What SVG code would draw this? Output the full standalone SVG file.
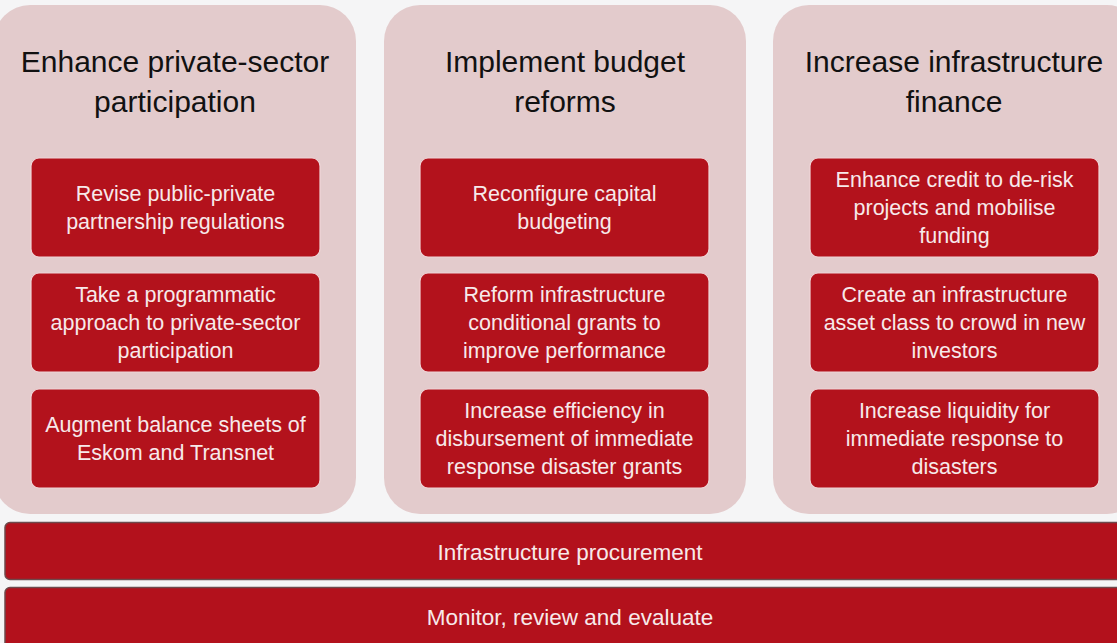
<svg xmlns="http://www.w3.org/2000/svg" width="1117" height="643" viewBox="0 0 1117 643">
  <style>
    .panel { fill: #e3cbcc; }
    .box { fill: #b3121c; stroke: #f0d6d8; stroke-width: 1.2; }
    .bar { fill: #b3111c; stroke: #6e4a4c; stroke-width: 1.5; }
    .title { font-family: "Liberation Sans", Arial, sans-serif; font-size: 30px; fill: #111111; text-anchor: middle; }
    .label { font-family: "Liberation Sans", Arial, sans-serif; font-size: 21.5px; fill: #f7e9ea; text-anchor: middle; }
    .barlabel { font-family: "Liberation Sans", Arial, sans-serif; font-size: 22.5px; fill: #f7e9ea; text-anchor: middle; }
  </style>
  <rect x="0" y="0" width="1117" height="643" fill="#f5f5f6"/>

  <!-- Column 1: private-sector participation -->
  <g id="col-private">
    <rect class="panel" x="-6" y="5" width="362" height="509" rx="36"/>
    <text class="title" x="175" y="72">Enhance private-sector</text>
    <text class="title" x="175" y="112">participation</text>
  </g>
  <g id="ppp-regulations">
    <rect class="box" x="31" y="158" width="289" height="99" rx="8"/>
    <text class="label" x="175.5" y="201">Revise public-private</text>
    <text class="label" x="175.5" y="229">partnership regulations</text>
  </g>
  <g id="programmatic-approach">
    <rect class="box" x="31" y="273" width="289" height="99" rx="8"/>
    <text class="label" x="175.5" y="302">Take a programmatic</text>
    <text class="label" x="175.5" y="330">approach to private-sector</text>
    <text class="label" x="175.5" y="358">participation</text>
  </g>
  <g id="balance-sheets">
    <rect class="box" x="31" y="389" width="289" height="99" rx="8"/>
    <text class="label" x="175.5" y="432">Augment balance sheets of</text>
    <text class="label" x="175.5" y="460">Eskom and Transnet</text>
  </g>

  <!-- Column 2: budget reforms -->
  <g id="col-budget">
    <rect class="panel" x="384" y="5" width="362" height="509" rx="36"/>
    <text class="title" x="565" y="72">Implement budget</text>
    <text class="title" x="565" y="112">reforms</text>
  </g>
  <g id="capital-budgeting">
    <rect class="box" x="420" y="158" width="289" height="99" rx="8"/>
    <text class="label" x="564.5" y="201">Reconfigure capital</text>
    <text class="label" x="564.5" y="229">budgeting</text>
  </g>
  <g id="conditional-grants">
    <rect class="box" x="420" y="273" width="289" height="99" rx="8"/>
    <text class="label" x="564.5" y="302">Reform infrastructure</text>
    <text class="label" x="564.5" y="330">conditional grants to</text>
    <text class="label" x="564.5" y="358">improve performance</text>
  </g>
  <g id="disaster-grants">
    <rect class="box" x="420" y="389" width="289" height="99" rx="8"/>
    <text class="label" x="564.5" y="418">Increase efficiency in</text>
    <text class="label" x="564.5" y="446">disbursement of immediate</text>
    <text class="label" x="564.5" y="474">response disaster grants</text>
  </g>

  <!-- Column 3: infrastructure finance -->
  <g id="col-finance">
    <rect class="panel" x="773" y="5" width="370" height="509" rx="36"/>
    <text class="title" x="954" y="72">Increase infrastructure</text>
    <text class="title" x="954" y="112">finance</text>
  </g>
  <g id="credit-enhancement">
    <rect class="box" x="810" y="158" width="289" height="99" rx="8"/>
    <text class="label" x="954.5" y="187">Enhance credit to de-risk</text>
    <text class="label" x="954.5" y="215">projects and mobilise</text>
    <text class="label" x="954.5" y="243">funding</text>
  </g>
  <g id="asset-class">
    <rect class="box" x="810" y="273" width="289" height="99" rx="8"/>
    <text class="label" x="954.5" y="302">Create an infrastructure</text>
    <text class="label" x="954.5" y="330">asset class to crowd in new</text>
    <text class="label" x="954.5" y="358">investors</text>
  </g>
  <g id="disaster-liquidity">
    <rect class="box" x="810" y="389" width="289" height="99" rx="8"/>
    <text class="label" x="954.5" y="418">Increase liquidity for</text>
    <text class="label" x="954.5" y="446">immediate response to</text>
    <text class="label" x="954.5" y="474">disasters</text>
  </g>

  <!-- Cross-cutting bars -->
  <g id="procurement">
    <rect class="bar" x="5" y="522.5" width="1130" height="57" rx="5"/>
    <text class="barlabel" x="570" y="560">Infrastructure procurement</text>
  </g>
  <g id="monitoring">
    <rect class="bar" x="5" y="587.5" width="1130" height="70" rx="5"/>
    <text class="barlabel" x="570" y="625">Monitor, review and evaluate</text>
  </g>

  <g id="connectors"></g>
</svg>
